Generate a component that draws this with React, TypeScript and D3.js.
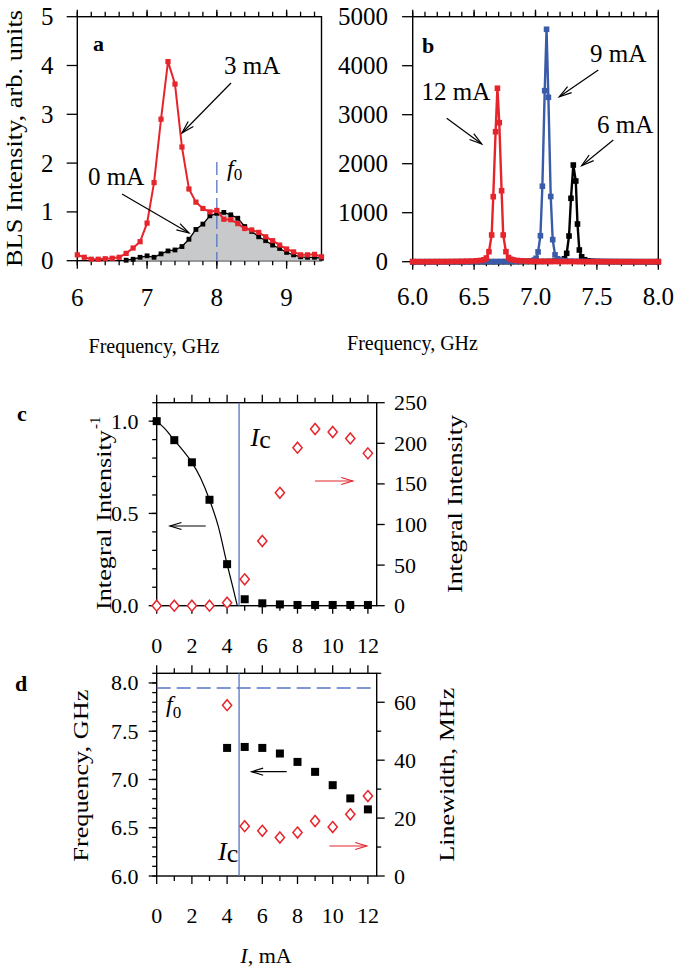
import React, { useEffect, useRef } from "react";
import * as d3 from "d3";

const FONT = "'Liberation Serif', 'Times New Roman', Times, serif";
const RED = "#e6242b";
const BLUE = "#3a5ba8";
const ICBLUE = "#5674c4";
const GRAY = "#c8c9cb";

// ---------- Panel a : BLS spectra (arb. units) ----------
const freqA = [6.0, 6.1, 6.2, 6.3, 6.4, 6.5, 6.6, 6.7, 6.8, 6.9, 7.0, 7.1, 7.2, 7.3, 7.4, 7.5, 7.6, 7.7, 7.8, 7.9, 8.0, 8.1, 8.2, 8.3, 8.4, 8.5, 8.6, 8.7, 8.8, 8.9, 9.0, 9.1, 9.2, 9.3, 9.4, 9.5];
const red3mA = [0.12, 0.07, 0.03, 0.03, 0.04, 0.05, 0.07, 0.15, 0.26, 0.39, 0.77, 1.6, 2.9, 4.08, 3.62, 2.33, 1.47, 1.2, 1.07, 1.0, 1.03, 0.85, 0.84, 0.76, 0.66, 0.63, 0.58, 0.49, 0.41, 0.32, 0.24, 0.18, 0.12, 0.12, 0.13, 0.08];
const freqA0 = [6.7, 6.8, 6.9, 7.0, 7.1, 7.2, 7.3, 7.4, 7.5, 7.6, 7.7, 7.8, 7.9, 8.0, 8.1, 8.2, 8.3, 8.4, 8.5, 8.6, 8.7, 8.8, 8.9, 9.0, 9.1, 9.2, 9.3, 9.4, 9.5];
const black0mA = [0.01, 0.03, 0.07, 0.1, 0.07, 0.14, 0.2, 0.22, 0.29, 0.44, 0.64, 0.75, 0.92, 0.97, 0.99, 0.94, 0.87, 0.7, 0.6, 0.49, 0.41, 0.32, 0.25, 0.17, 0.12, 0.08, 0.07, 0.07, 0.05];
const ticksA_x = [6, 7, 8, 9];
const ticksA_y = [0, 1, 2, 3, 4, 5];

// ---------- Panel b : BLS spectra above threshold ----------
const freq6mA = [6.0, 6.04, 6.08, 6.12, 6.16, 6.2, 6.24, 6.28, 6.32, 6.36, 6.4, 6.44, 6.48, 6.52, 6.56, 6.6, 6.64, 6.68, 6.72, 6.76, 6.8, 6.84, 6.88, 6.92, 6.96, 7.0, 7.04, 7.08, 7.12, 7.16, 7.2, 7.236, 7.254, 7.273, 7.289, 7.308, 7.328, 7.342, 7.357, 7.376, 7.4, 7.43, 7.46, 7.5, 7.54, 7.58, 7.62, 7.66, 7.7, 7.74, 7.78, 7.82, 7.86, 7.9, 7.94, 7.98, 8.0];
const val6mA = [0, 0, 0, 0, 0, 0, 0, 0, 0, 0, 0, 0, 0, 0, 0, 0, 0, 0, 0, 0, 1, 1, 1, 2, 2, 3, 4, 5, 7, 12, 25, 60, 171, 524, 1294, 1973, 1647, 769, 239, 100, 40, 18, 10, 6, 4, 3, 2, 2, 1, 1, 1, 0, 0, 0, 0, 0, 0];
const freq9mA = [6.0, 6.04, 6.08, 6.12, 6.16, 6.2, 6.24, 6.28, 6.32, 6.36, 6.4, 6.44, 6.48, 6.52, 6.56, 6.6, 6.64, 6.68, 6.72, 6.76, 6.8, 6.84, 6.88, 6.92, 6.96, 6.99, 7.005, 7.021, 7.04, 7.056, 7.075, 7.09, 7.105, 7.124, 7.14, 7.159, 7.18, 7.21, 7.24, 7.28, 7.32, 7.36, 7.4, 7.44, 7.48, 7.52, 7.56, 7.6, 7.64, 7.68, 7.72, 7.76, 7.8, 7.84, 7.88, 7.92, 7.96, 8.0];
const val9mA = [0, 0, 0, 0, 0, 0, 0, 0, 0, 0, 0, 0, 1, 1, 1, 2, 2, 2, 3, 3, 4, 5, 7, 10, 15, 35, 70, 200, 530, 1540, 3490, 4743, 3355, 1330, 450, 140, 60, 30, 18, 12, 9, 7, 5, 4, 3, 3, 2, 2, 2, 1, 1, 1, 1, 1, 0, 0, 0, 0];
const freq12mA = [6.0, 6.04, 6.08, 6.12, 6.16, 6.2, 6.24, 6.28, 6.32, 6.36, 6.4, 6.44, 6.48, 6.52, 6.55, 6.58, 6.6, 6.621, 6.643, 6.656, 6.675, 6.69, 6.705, 6.724, 6.737, 6.759, 6.78, 6.8, 6.82, 6.85, 6.88, 6.92, 6.96, 7.0, 7.04, 7.08, 7.12, 7.16, 7.2, 7.24, 7.28, 7.32, 7.36, 7.4, 7.44, 7.48, 7.52, 7.56, 7.6, 7.64, 7.68, 7.72, 7.76, 7.8, 7.84, 7.88, 7.92, 7.96, 8.0];
const val12mA = [0, 0, 0, 1, 1, 2, 2, 3, 4, 5, 7, 9, 12, 18, 25, 40, 75, 204, 545, 1327, 2653, 3540, 2837, 1449, 545, 204, 85, 50, 35, 25, 18, 13, 10, 8, 6, 5, 4, 3, 3, 2, 2, 2, 1, 1, 1, 1, 1, 0, 0, 0, 0, 0, 0, 0, 0, 0, 0, 0, 0];
const ticksB_x = [6.0, 6.5, 7.0, 7.5, 8.0];
const ticksB_y = [0, 1000, 2000, 3000, 4000, 5000];

// ---------- Panel c : integral intensity vs current ----------
const currentC = [0, 1, 2, 3, 4, 5, 6, 7, 8, 9, 10, 11, 12];
const invIntensity = [1.0, 0.897, 0.777, 0.574, 0.225, 0.035, 0.013, 0.007, 0.004, 0.004, 0.004, 0.004, 0.004];
const intIntensity = [0, 0, 0, 0, 3.7, 32.5, 79.7, 139, 194.6, 217.6, 213.9, 206, 187.6];
const fitCurrent = [0, 0.5, 1, 1.5, 2, 2.5, 3, 3.5, 4, 4.3, 4.58];
const fitInv = [1.0, 0.955, 0.897, 0.84, 0.777, 0.69, 0.574, 0.43, 0.225, 0.11, 0];
const thresholdCurrent = 4.68;
const ticksC_left = ["0.0", "0.5", "1.0"];
const ticksC_right = [0, 50, 100, 150, 200, 250];
const ticksI = [0, 2, 4, 6, 8, 10, 12];

// ---------- Panel d : frequency & linewidth vs current ----------
const currentD = [4, 5, 6, 7, 8, 9, 10, 11, 12];
const freqD = [7.327, 7.337, 7.327, 7.269, 7.182, 7.079, 6.941, 6.804, 6.69];
const linewidthD = [59, 17.2, 15.6, 13.3, 15, 19, 16.9, 21.3, 27.6];
const f0 = 7.947;
const ticksD_left = ["6.0", "6.5", "7.0", "7.5", "8.0"];
const ticksD_right = [0, 20, 40, 60];

type Sel = d3.Selection<SVGGElement, unknown, null, undefined>;

function frame(g: Sel, x0: number, x1: number, yTop: number, yBot: number) {
  g.append("rect").attr("x", x0).attr("y", yTop).attr("width", x1 - x0).attr("height", yBot - yTop)
    .attr("fill", "none").attr("stroke", "#000").attr("stroke-width", 1.4);
}
function xTicks(g: Sel, x: (v: number) => number, vals: number[], y: number, len: number, dir: number) {
  vals.forEach((v) => g.append("line").attr("x1", x(v)).attr("x2", x(v)).attr("y1", y).attr("y2", y + dir * len)
    .attr("stroke", "#000").attr("stroke-width", 1.3));
}
function yTicks(g: Sel, y: (v: number) => number, vals: number[], x: number, len: number, dir: number) {
  vals.forEach((v) => g.append("line").attr("y1", y(v)).attr("y2", y(v)).attr("x1", x).attr("x2", x + dir * len)
    .attr("stroke", "#000").attr("stroke-width", 1.3));
}
function text(g: Sel, x: number, y: number, s: string, size: number, anchor = "middle") {
  return g.append("text").attr("x", x).attr("y", y).attr("font-family", FONT).attr("font-size", size)
    .attr("text-anchor", anchor).attr("fill", "#000").text(s);
}
function vtext(g: Sel, x: number, y: number, s: string, size: number, len: number) {
  return g.append("text").attr("transform", `translate(${x},${y}) rotate(-90)`).attr("font-family", FONT)
    .attr("font-size", size).attr("text-anchor", "start").attr("textLength", len)
    .attr("lengthAdjust", "spacingAndGlyphs").attr("fill", "#000").text(s);
}
function arrow(g: Sel, x1: number, y1: number, x2: number, y2: number, color: string, head = 13, ang = 0.28) {
  const a = Math.atan2(y2 - y1, x2 - x1);
  g.append("line").attr("x1", x1).attr("y1", y1).attr("x2", x2).attr("y2", y2).attr("stroke", color).attr("stroke-width", 1.2);
  const p1 = [x2 - head * Math.cos(a - ang), y2 - head * Math.sin(a - ang)];
  const p2 = [x2 - head * Math.cos(a + ang), y2 - head * Math.sin(a + ang)];
  g.append("path").attr("d", `M${p1[0]},${p1[1]}L${x2},${y2}L${p2[0]},${p2[1]}`).attr("fill", "none")
    .attr("stroke", color).attr("stroke-width", 1.2);
}
function squares(g: Sel, xs: number[], ys: number[], size: number, color: string) {
  xs.forEach((xv, i) => g.append("rect").attr("x", xv - size / 2).attr("y", ys[i] - size / 2)
    .attr("width", size).attr("height", size).attr("fill", color));
}
function diamonds(g: Sel, xs: number[], ys: number[]) {
  xs.forEach((x, i) => {
    const y = ys[i];
    g.append("path").attr("d", `M${x},${y - 5.5}L${x + 4.6},${y}L${x},${y + 5.5}L${x - 4.6},${y}Z`)
      .attr("fill", "#fff").attr("stroke", RED).attr("stroke-width", 1.5);
  });
}

export default function App() {
  const ref = useRef<SVGSVGElement>(null);
  useEffect(() => {
    const svg = d3.select(ref.current as SVGSVGElement);
    svg.selectAll("*").remove();
    const root = svg.append("g") as unknown as Sel;

    // ================= Panel a =================
    {
      const g = root.append("g") as unknown as Sel;
      const x = d3.scaleLinear().domain([6, 9.5]).range([77.3, 321.5]);
      const y = d3.scaleLinear().domain([0, 5]).range([260.7, 16.7]);
      frame(g, 77.3, 321.5, 16.7, 260.7);
      const minor = d3.range(6, 9.51, 0.2);
      xTicks(g, x, minor, 260.7, 4.5, 1);
      xTicks(g, x, ticksA_x, 260.7, 8, 1);
      xTicks(g, x, minor, 16.7, 5, -1);
      xTicks(g, x, ticksA_x, 16.7, 7, -1);
      yTicks(g, y, ticksA_y, 77.3, 10.6, -1);
      // gray area under 0 mA
      const area = d3.area<number>().x((_, i) => x(freqA0[i])).y0(y(0)).y1((d) => y(d));
      g.append("path").attr("d", area(black0mA) as string).attr("fill", GRAY);
      // f0 dashed line
      g.append("line").attr("x1", x(8)).attr("x2", x(8)).attr("y1", y(2.02)).attr("y2", y(0))
        .attr("stroke", ICBLUE).attr("stroke-width", 1.3).attr("stroke-dasharray", "13,5");
      const line0 = d3.line<number>().x((_, i) => x(freqA0[i])).y((d) => y(d));
      g.append("path").attr("d", line0(black0mA) as string).attr("fill", "none").attr("stroke", "#000").attr("stroke-width", 1.3);
      squares(g, freqA0.map(x), black0mA.map(y), 4.8, "#000");
      const line3 = d3.line<number>().x((_, i) => x(freqA[i])).y((d) => y(d));
      g.append("path").attr("d", line3(red3mA) as string).attr("fill", "none").attr("stroke", RED).attr("stroke-width", 2);
      squares(g, freqA.map(x), red3mA.map(y), 5.2, RED);

      ticksA_x.forEach((v) => text(g, x(v), 306, String(v), 25));
      ticksA_y.forEach((v) => text(g, 53.5, y(v) + 8.5, String(v), 25, "end"));
      text(g, 93, 51, "a", 22).attr("font-weight", "bold").attr("text-anchor", "start");
      text(g, 224, 74, "3 mA", 25, "start");
      text(g, 88, 185, "0 mA", 25, "start");
      arrow(g, 231, 83, 182, 133, "#000");
      arrow(g, 122, 194, 189, 233, "#000");
      const f = text(g, 227, 176, "", 24, "start");
      f.append("tspan").attr("font-style", "italic").text("f");
      f.append("tspan").attr("font-size", 17).attr("dy", 4).text("0");
      text(g, 154, 353, "Frequency, GHz", 20);
      vtext(g, 22, 267, "BLS Intensity, arb. units", 23, 257);
    }

    // ================= Panel b =================
    {
      const g = root.append("g") as unknown as Sel;
      const x = d3.scaleLinear().domain([6, 8]).range([412.7, 658.3]);
      const y = d3.scaleLinear().domain([0, 5000]).range([261.7, 16.7]);
      frame(g, 412.7, 658.3, 16.7, 261.7);
      const minor = d3.range(6, 8.001, 0.1);
      xTicks(g, x, minor, 261.7, 4.5, 1);
      xTicks(g, x, ticksB_x, 261.7, 8, 1);
      xTicks(g, x, minor, 16.7, 5, -1);
      xTicks(g, x, ticksB_x, 16.7, 7, -1);
      yTicks(g, y, ticksB_y, 412.7, 10.6, -1);
      const series: [number[], number[], string][] = [
        [freq6mA, val6mA, "#000"],
        [freq9mA, val9mA, BLUE],
        [freq12mA, val12mA, RED],
      ];
      series.forEach(([fs, vs, c]) => {
        const ln = d3.line<number>().x((_, i) => x(fs[i])).y((d) => y(d));
        g.append("path").attr("d", ln(vs) as string).attr("fill", "none").attr("stroke", c).attr("stroke-width", 2.4);
        squares(g, fs.map(x), vs.map(y), 5.6, c);
      });
      ticksB_x.forEach((v) => text(g, x(v), 305, v.toFixed(1), 25));
      ticksB_y.forEach((v) => text(g, 388, y(v) + 8.5, String(v), 25, "end"));
      text(g, 422, 53, "b", 22).attr("font-weight", "bold").attr("text-anchor", "start");
      text(g, 421.5, 100, "12 mA", 25, "start");
      text(g, 590, 62, "9 mA", 25, "start");
      text(g, 597, 133, "6 mA", 25, "start");
      arrow(g, 446.7, 118.3, 481.7, 144, "#000");
      arrow(g, 598.3, 70, 559.3, 96.7, "#000");
      arrow(g, 613.3, 140, 581.7, 165.7, "#000");
      text(g, 412.5, 350, "Frequency, GHz", 20);
    }

    // ================= Panel c =================
    {
      const g = root.append("g") as unknown as Sel;
      const x = d3.scaleLinear().domain([0, 12.5]).range([156.7, 376.7]);
      const yL = d3.scaleLinear().domain([0, 1.1]).range([605.7, 402.7]);
      const yR = d3.scaleLinear().domain([0, 250]).range([605.7, 402.7]);
      frame(g, 156.7, 376.7, 402.7, 605.7);
      const odd = [1, 3, 5, 7, 9, 11];
      xTicks(g, x, odd, 605.7, 5, 1);
      xTicks(g, x, ticksI, 605.7, 8, 1);
      xTicks(g, x, odd, 402.7, 5, -1);
      xTicks(g, x, ticksI, 402.7, 8, -1);
      yTicks(g, yL, d3.range(0, 1.101, 0.1), 156.7, 4.5, -1);
      yTicks(g, yL, ticksC_left.map(Number), 156.7, 8, -1);
      yTicks(g, yR, ticksC_right, 376.7, 8, 1);
      g.append("line").attr("x1", x(thresholdCurrent)).attr("x2", x(thresholdCurrent)).attr("y1", 402.7).attr("y2", 605.7)
        .attr("stroke", ICBLUE).attr("stroke-width", 1.3);
      const fit = d3.line<number>().x((_, i) => x(fitCurrent[i])).y((d) => yL(d)).curve(d3.curveMonotoneX);
      g.append("path").attr("d", fit(fitInv) as string).attr("fill", "none").attr("stroke", "#000").attr("stroke-width", 1.2);
      diamonds(g, currentC.map(x), intIntensity.map(yR));
      squares(g, currentC.map(x), invIntensity.map(yL), 8, "#000");
      ticksC_left.forEach((s) => text(g, 138.5, yL(Number(s)) + 7.5, s, 22, "end"));
      ticksC_right.forEach((v) => text(g, 394, yR(v) + 7.5, String(v), 22, "start"));
      ticksI.forEach((v) => text(g, x(v), 653, String(v), 22));
      text(g, 17, 421, "c", 22).attr("font-weight", "bold").attr("text-anchor", "start");
      const ic = text(g, 250.5, 446, "", 26, "start");
      ic.append("tspan").attr("font-style", "italic").text("I");
      ic.append("tspan").attr("dy", 2).text("c");
      arrow(g, 205.7, 526, 170, 526, "#000", 12, 0.3);
      arrow(g, 315, 481, 352.7, 481, RED, 12, 0.3);
      vtext(g, 111, 610, "Integral Intensity", 22, 180);
      g.append("text").attr("transform", `translate(100,429) rotate(-90)`).attr("font-family", FONT)
        .attr("font-size", 15).attr("text-anchor", "start").text("-1");
      vtext(g, 462, 593, "Integral Intensity", 22, 178);
    }

    // ================= Panel d =================
    {
      const g = root.append("g") as unknown as Sel;
      const x = d3.scaleLinear().domain([0, 12.5]).range([156.7, 376.7]);
      const yL = d3.scaleLinear().domain([6, 8.1]).range([876, 673.3]);
      const yR = d3.scaleLinear().domain([0, 70]).range([876, 673.3]);
      frame(g, 156.7, 376.7, 673.3, 876);
      const odd = [1, 3, 5, 7, 9, 11];
      xTicks(g, x, odd, 876, 5, 1);
      xTicks(g, x, ticksI, 876, 8, 1);
      xTicks(g, x, odd, 673.3, 5, -1);
      xTicks(g, x, ticksI, 673.3, 8, -1);
      yTicks(g, yL, d3.range(6, 8.101, 0.1), 156.7, 4.5, -1);
      yTicks(g, yL, ticksD_left.map(Number), 156.7, 8, -1);
      yTicks(g, yR, [10, 30, 50, 70], 376.7, 4.5, 1);
      yTicks(g, yR, ticksD_right, 376.7, 8, 1);
      g.append("line").attr("x1", 156.7).attr("x2", 376.7).attr("y1", yL(f0)).attr("y2", yL(f0))
        .attr("stroke", ICBLUE).attr("stroke-width", 1.5).attr("stroke-dasharray", "14,6");
      g.append("line").attr("x1", x(thresholdCurrent)).attr("x2", x(thresholdCurrent)).attr("y1", 673.3).attr("y2", 876)
        .attr("stroke", ICBLUE).attr("stroke-width", 1.3);
      diamonds(g, currentD.map(x), linewidthD.map(yR));
      squares(g, currentD.map(x), freqD.map(yL), 8, "#000");
      ticksD_left.forEach((s) => text(g, 138.5, yL(Number(s)) + 7.5, s, 22, "end"));
      ticksD_right.forEach((v) => text(g, 394, yR(v) + 7.5, String(v), 22, "start"));
      ticksI.forEach((v) => text(g, x(v), 923, String(v), 22));
      text(g, 15, 691, "d", 22).attr("font-weight", "bold").attr("text-anchor", "start");
      const ic = text(g, 218, 860, "", 26, "start");
      ic.append("tspan").attr("font-style", "italic").text("I");
      ic.append("tspan").attr("dy", 2).text("c");
      const ff = text(g, 166, 712, "", 24, "start");
      ff.append("tspan").attr("font-style", "italic").text("f");
      ff.append("tspan").attr("font-size", 17).attr("dy", 6).text("0");
      arrow(g, 286.7, 771.7, 251.7, 771.7, "#000", 12, 0.3);
      arrow(g, 329.3, 846, 366.7, 846, RED, 12, 0.3);
      vtext(g, 88, 861.7, "Frequency, GHz", 22, 172);
      vtext(g, 454, 861.7, "Linewidth, MHz", 22, 174);
      const il = text(g, 266, 963, "", 22);
      il.append("tspan").attr("font-style", "italic").text("I");
      il.append("tspan").text(", mA");
    }
  }, []);
  return <svg ref={ref} width={678} height={975} style={{ position: "absolute", left: 0, top: 0, background: "#fff" }} />;
}
